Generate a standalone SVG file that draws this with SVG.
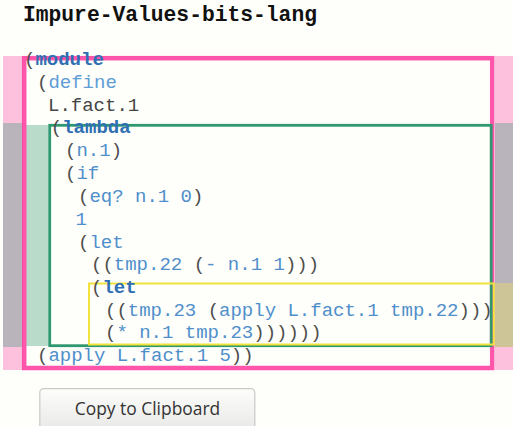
<svg xmlns="http://www.w3.org/2000/svg" width="513" height="426" viewBox="0 0 513 426">
<style>
.code{font-family:"Liberation Mono","Courier New",monospace;font-size:19px;fill:#4d4d4d}
.p{fill:#4d4d4d}
.b{fill:#4f8fcb}
.k{fill:#2f6fb3;font-weight:bold}
.d{fill:#5f9dd6}
.v{fill:#444}
.title{font-family:"Liberation Mono","Courier New",monospace;font-size:21.3px;font-weight:bold;fill:#111}
.btn{font-family:"Open Sans","Noto Sans",sans-serif;font-size:17.4px;fill:#333}
</style>
<defs>
<linearGradient id="bg" x1="0" y1="0" x2="0" y2="1">
<stop offset="0" stop-color="#fdfdfb"/>
<stop offset="1" stop-color="#e9e9e7"/>
</linearGradient>
</defs>
<rect x="0" y="0" width="513" height="426" fill="#fefefa"/>
<text class="title" x="23" y="21">Impure-Values-bits-lang</text>
<g id="bands">
<rect x="3" y="56" width="20" height="67" fill="#fdc0dd"/>
<rect x="3" y="123" width="20" height="224" fill="#b9b4bb"/>
<rect x="3" y="347" width="20" height="23" fill="#fdc0dd"/>
<rect x="26" y="125" width="22.5" height="221" fill="#b9dcca"/>
<rect x="495" y="56" width="18" height="67" fill="#fdc0dd"/>
<rect x="495" y="123" width="18" height="160" fill="#b9b4bb"/>
<rect x="495" y="283" width="18" height="64" fill="#cdc597"/>
<rect x="495" y="347" width="18" height="23" fill="#fdc0dd"/>
</g>
<g id="module">
<rect x="24.2" y="58.2" width="468" height="309.8" fill="none" stroke="#ff3d9f" stroke-opacity="0.88" stroke-width="4.5"/>
</g>
<g id="lambda">
<rect x="49.7" y="125.3" width="441.5" height="220.4" fill="none" stroke="#2f9870" stroke-width="2.8"/>
</g>
<g id="let">
<rect x="89" y="283.5" width="404.8" height="61" fill="none" stroke="#f2e33c" stroke-width="2"/>
</g>
<g id="code" class="code" xml:space="preserve">
<text x="24" y="65"><tspan class="p">(</tspan><tspan class="k">module</tspan></text>
<text x="37" y="88"><tspan class="p">(</tspan><tspan class="d">define</tspan></text>
<text x="48" y="110.7"><tspan class="v">L.fact.1</tspan></text>
<text x="50.8" y="133.4"><tspan class="p">(</tspan><tspan class="k">lambda</tspan></text>
<text x="65" y="156.3"><tspan class="p">(</tspan><tspan class="b">n.1</tspan><tspan class="p">)</tspan></text>
<text x="65" y="179.2"><tspan class="p">(</tspan><tspan class="b">if</tspan></text>
<text x="78" y="201.8"><tspan class="p">(</tspan><tspan class="b">eq? n.1 0</tspan><tspan class="p">)</tspan></text>
<text x="75.5" y="224.6"><tspan class="b">1</tspan></text>
<text x="78" y="247.5"><tspan class="p">(</tspan><tspan class="b">let</tspan></text>
<text x="91" y="270.4"><tspan class="p">((</tspan><tspan class="b">tmp.22</tspan><tspan class="p"> (</tspan><tspan class="b">- n.1 1</tspan><tspan class="p">)))</tspan></text>
<text x="91" y="293.2"><tspan class="p">(</tspan><tspan class="k">let</tspan></text>
<text x="105" y="315.6"><tspan class="p">((</tspan><tspan class="b">tmp.23</tspan><tspan class="p"> (</tspan><tspan class="b">apply L.fact.1 tmp.22</tspan><tspan class="p">)))</tspan></text>
<text x="105" y="337.8"><tspan class="p">(</tspan><tspan class="b">* n.1 tmp.23</tspan><tspan class="p">))))))</tspan></text>
<text x="37" y="360.5"><tspan class="p">(</tspan><tspan class="b">apply L.fact.1 5</tspan><tspan class="p">))</tspan></text>
</g>
<g id="copy-button">
<rect x="39.8" y="388.6" width="215" height="40" rx="4" fill="url(#bg)" stroke="#c9c9c7" stroke-width="1.2"/>
<text class="btn" x="147.5" y="414.5" text-anchor="middle">Copy to Clipboard</text>
</g>
</svg>
